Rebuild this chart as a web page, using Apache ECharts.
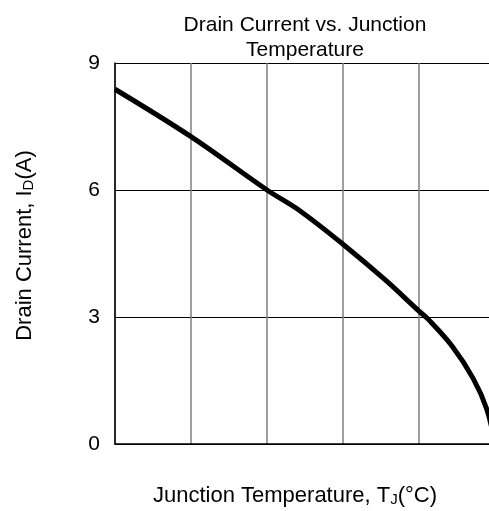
<!DOCTYPE html>
<html>
<head>
<meta charset="utf-8">
<script src="https://cdn.jsdelivr.net/npm/echarts@6/dist/echarts.min.js"></script>
<style>
  html, body { margin: 0; padding: 0; background: #fff; }
  #chart { width: 489px; height: 511px; }
</style>
</head>
<body>
<div id="chart"></div>
<script>
// junction temperature (°C)
var tempC = [25, 50, 75, 86, 100, 114, 125, 128, 135.8, 142.8, 147.3, 150]
// drain current (A)
var drainA = [8.38, 7.26, 6.0, 5.5, 4.72, 3.87, 3.14, 2.95, 2.32, 1.55, 0.82, 0]
var yTicks = [0, 3, 6, 9]

var pts = []
for (var i = 0; i < tempC.length; i++) {
  pts.push([tempC[i], drainA[i]])
}

var font = 'Liberation Sans, Arial, sans-serif'
var chart = echarts.init(document.getElementById('chart'))
chart.setOption({
  animation: false,
  title: {
    text: 'Drain Current vs. Junction\nTemperature',
    left: 300,
    textAlign: 'center',
    top: 8,
    textStyle: { fontFamily: font, fontSize: 21, fontWeight: 'normal', color: '#000', lineHeight: 25 }
  },
  // plot runs past the right edge of the window (cropped like the original)
  grid: { left: 115, width: 380, top: 63, bottom: 67, outerBoundsMode: 'none' },
  xAxis: {
    type: 'value',
    min: 25,
    max: 150,
    interval: 25,
    name: 'Junction Temperature, T{sub|J}(°C)',
    nameLocation: 'middle',
    nameGap: 40,
    nameTextStyle: {
      fontFamily: font, fontSize: 22, color: '#000', padding: [0, 20, 0, 0],
      rich: { sub: { fontFamily: font, fontSize: 15, color: '#000', verticalAlign: 'bottom', padding: [8, 0, 0, 0] } }
    },
    axisLine: { show: true, lineStyle: { color: '#000', width: 1.5 } },
    axisTick: { show: false },
    axisLabel: { show: false },
    splitLine: { show: true, lineStyle: { color: '#7f7f7f', width: 1.5 } }
  },
  yAxis: {
    type: 'value',
    min: yTicks[0],
    max: yTicks[yTicks.length - 1],
    interval: 3,
    name: 'Drain Current, I{sub|D}(A)',
    nameLocation: 'middle',
    nameGap: 79,
    nameTextStyle: {
      fontFamily: font, fontSize: 22, color: '#000', padding: [0, 0, 0, 16],
      rich: { sub: { fontFamily: font, fontSize: 15, color: '#000', verticalAlign: 'bottom', padding: [8, 0, 0, 0] } }
    },
    axisLine: { show: true, lineStyle: { color: '#000', width: 1.5 } },
    axisTick: { show: false },
    axisLabel: { fontFamily: font, fontSize: 21, color: '#000', margin: 15 },
    splitLine: { show: true, lineStyle: { color: '#000', width: 1.2 } }
  },
  series: [{
    type: 'line',
    data: pts,
    smooth: 0.35,
    showSymbol: false,
    lineStyle: { color: '#000', width: 5 }
  }]
})
</script>
</body>
</html>
